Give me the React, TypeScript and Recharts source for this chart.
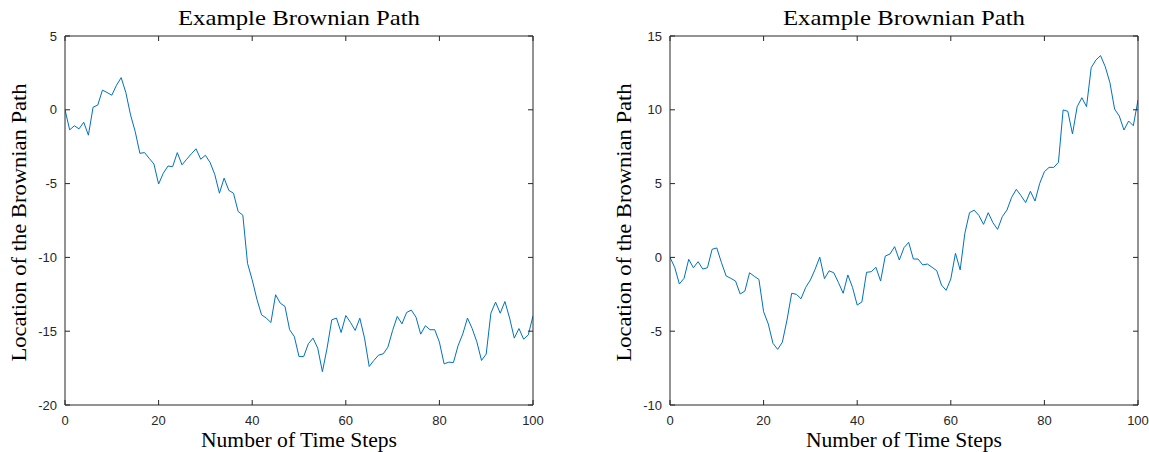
import { LineChart, Line, XAxis, YAxis, Label } from "recharts";

// step index 0..100 (x positions only)
const steps = Array.from({ length: 101 }, (_, i) => i);
const xTicks = [0, 20, 40, 60, 80, 100];

const leftTicks = [-20, -15, -10, -5, 0, 5];
const rightTicks = [-10, -5, 0, 5, 10, 15];

const leftPath = [
  0, -1.36, -1.08, -1.29, -0.84, -1.72, 0.18, 0.32, 1.33, 1.17,
  0.99, 1.66, 2.18, 1.17, -0.34, -1.47, -2.95, -2.9, -3.29, -3.67,
  -5.03, -4.3, -3.81, -3.85, -2.9, -3.73, -3.35, -2.98, -2.64, -3.35,
  -3.08, -3.57, -4.38, -5.65, -4.63, -5.46, -5.65, -6.89, -7.14, -10.4,
  -11.52, -12.83, -13.89, -14.11, -14.41, -12.53, -13.1, -13.32, -14.9, -15.36,
  -16.72, -16.72, -15.85, -15.47, -16.15, -17.74, -16.15, -14.23, -14.11, -15.09,
  -13.94, -14.4, -14.95, -14.12, -15.47, -17.39, -16.98, -16.62, -16.53, -16.08,
  -14.95, -14.0, -14.5, -13.73, -13.57, -14.05, -15.2, -14.63, -14.9, -14.9,
  -15.74, -17.21, -17.1, -17.12, -15.97, -15.18, -14.11, -14.82, -15.72, -16.98,
  -16.55, -13.78, -13.03, -13.78, -12.99, -14.11, -15.47, -14.82, -15.54, -15.25,
  -13.96,
];

const rightPath = [
  0, -0.67, -1.8, -1.42, -0.13, -0.7, -0.29, -0.79, -0.7, 0.55,
  0.64, -0.36, -1.26, -1.42, -1.6, -2.48, -2.28, -1.04, -1.28, -1.49,
  -3.68, -4.51, -5.82, -6.23, -5.75, -4.24, -2.43, -2.5, -2.8, -2.03,
  -1.53, -0.81, 0.02, -1.44, -0.91, -1.04, -1.71, -2.43, -1.19, -2.03,
  -3.23, -3.02, -1.01, -0.97, -0.67, -1.6, 0.09, 0.23, 0.73, -0.18,
  0.66, 1.02, -0.11, -0.11, -0.51, -0.45, -0.67, -0.9, -1.87, -2.23,
  -1.46, 0.28, -0.85, 1.63, 3.03, 3.2, 2.84, 2.24, 3.03, 2.35,
  1.9, 2.76, 3.21, 4.07, 4.61, 4.18, 3.71, 4.48, 3.82, 5.02,
  5.81, 6.1, 6.1, 6.44, 9.99, 9.9, 8.36, 10.21, 10.82, 10.21,
  12.85, 13.37, 13.67, 12.92, 11.84, 10.05, 9.58, 8.63, 9.24, 8.92,
  10.66,
];

const AXIS = "#262626";
const LINE = "#0072BD";
const TICK = 5;
const sans = "'Liberation Sans', Arial, sans-serif";
const serif = "'Liberation Serif', 'Times New Roman', serif";

const BottomTick = (p: any) => (
  <g>
    <line x1={p.x} y1={p.y} x2={p.x} y2={p.y - TICK} stroke={AXIS} strokeWidth={1} />
    <text x={p.x} y={p.y + 20} textAnchor="middle" fontFamily={sans} fontSize={13} fill={AXIS}>
      {p.payload.value}
    </text>
  </g>
);

const TopTick = (p: any) => (
  <line x1={p.x} y1={p.y} x2={p.x} y2={p.y + TICK} stroke={AXIS} strokeWidth={1} />
);

const LeftTick = (p: any) => (
  <g>
    <line x1={p.x} y1={p.y} x2={p.x + TICK} y2={p.y} stroke={AXIS} strokeWidth={1} />
    <text x={p.x - 8} y={p.y} dy="0.36em" textAnchor="end" fontFamily={sans} fontSize={13} fill={AXIS}>
      {p.payload.value}
    </text>
  </g>
);

const RightTick = (p: any) => (
  <line x1={p.x} y1={p.y} x2={p.x - TICK} y2={p.y} stroke={AXIS} strokeWidth={1} />
);

interface PanelProps {
  values: number[];
  yTicks: number[];
  width: number;
  marginLeft: number;
  marginRight: number;
}

function BrownianPanel({ values, yTicks, width, marginLeft, marginRight }: PanelProps) {
  const data = steps.map((s, i) => ({ step: s, value: values[i] }));
  const yDomain = [yTicks[0], yTicks[yTicks.length - 1]];

  return (
    <LineChart
      width={width}
      height={452}
      data={data}
      margin={{ top: 35, right: marginRight, left: marginLeft, bottom: 0 }}
    >
      <XAxis
        dataKey="step"
        type="number"
        domain={[0, 100]}
        ticks={xTicks}
        interval={0}
        height={47}
        tickSize={0}
        tickMargin={0}
        tick={BottomTick}
        axisLine={{ stroke: AXIS }}
        allowDataOverflow
      >
        <Label
          content={(p: any) => (
            <text
              x={p.viewBox.x + p.viewBox.width / 2}
              y={p.viewBox.y + 42}
              textAnchor="middle"
              fontFamily={serif}
              fontSize={20}
              fill="#000"
              textLength={196}
              lengthAdjust="spacingAndGlyphs"
            >
              Number of Time Steps
            </text>
          )}
        />
      </XAxis>
      <XAxis
        xAxisId="top"
        orientation="top"
        dataKey="step"
        type="number"
        domain={[0, 100]}
        ticks={xTicks}
        interval={0}
        height={1}
        tickSize={0}
        tickMargin={0}
        tick={TopTick}
        axisLine={{ stroke: AXIS }}
        allowDataOverflow
      >
        <Label
          content={(p: any) => (
            <text
              x={p.viewBox.x + p.viewBox.width / 2}
              y={25}
              textAnchor="middle"
              fontFamily={serif}
              fontSize={22}
              fill="#000"
              textLength={242}
              lengthAdjust="spacingAndGlyphs"
            >
              Example Brownian Path
            </text>
          )}
        />
      </XAxis>
      <YAxis
        type="number"
        domain={yDomain}
        ticks={yTicks}
        interval={0}
        width={50}
        tickSize={0}
        tickMargin={0}
        tick={LeftTick}
        axisLine={{ stroke: AXIS }}
        allowDataOverflow
      >
        <Label
          content={(p: any) => {
            const cx = p.viewBox.x + p.viewBox.width - 39;
            const cy = p.viewBox.y + p.viewBox.height / 2 + 2;
            return (
              <text
                x={cx}
                y={cy}
                transform={`rotate(-90, ${cx}, ${cy})`}
                textAnchor="middle"
                fontFamily={serif}
                fontSize={20}
                fill="#000"
                textLength={278}
                lengthAdjust="spacingAndGlyphs"
              >
                Location of the Brownian Path
              </text>
            );
          }}
        />
      </YAxis>
      <YAxis
        yAxisId="right"
        orientation="right"
        type="number"
        domain={yDomain}
        ticks={yTicks}
        interval={0}
        width={1}
        tickSize={0}
        tickMargin={0}
        tick={RightTick}
        axisLine={{ stroke: AXIS }}
        allowDataOverflow
      />
      <Line
        type="linear"
        dataKey="value"
        stroke={LINE}
        strokeWidth={1}
        dot={false}
        activeDot={false}
        isAnimationActive={false}
      />
    </LineChart>
  );
}

export default function App() {
  return (
    <div style={{ position: "absolute", left: 0, top: 0, width: 1149, height: 452, background: "#fff" }}>
      <div style={{ position: "absolute", left: 0, top: 0 }}>
        <BrownianPanel values={leftPath} yTicks={leftTicks} width={560} marginLeft={15} marginRight={26} />
      </div>
      <div style={{ position: "absolute", left: 574, top: 0 }}>
        <BrownianPanel values={rightPath} yTicks={rightTicks} width={575} marginLeft={46} marginRight={10} />
      </div>
    </div>
  );
}
